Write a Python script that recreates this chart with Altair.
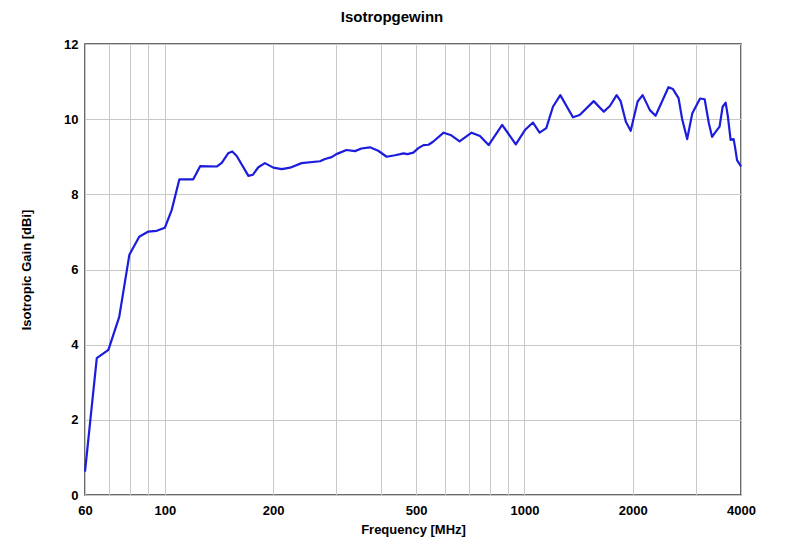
import altair as alt
import pandas as pd

freq = [60, 64.7, 69.7, 74.7, 79.7, 84.9, 90, 95, 100, 104.5,
        109.8, 120, 125.4, 139.4, 144, 150, 154, 158.5, 170.8, 175.7,
        182, 189.8, 200.3, 211.5, 223, 240, 270, 279, 291, 300,
        320, 338, 352, 372, 392, 414, 437, 461, 473, 491,
        507, 524, 541, 557, 596, 626, 660, 713, 752, 795,
        867, 946, 1003, 1056, 1102, 1150, 1200, 1258, 1364, 1424,
        1558, 1662, 1728, 1804, 1851, 1914, 1974, 2064, 2131, 2232,
        2315, 2514, 2587, 2682, 2742, 2834, 2929, 3078, 3170, 3256,
        3324, 3388, 3487, 3556, 3626, 3678, 3743, 3816, 3851, 3900, 4000]
gain = [0.62, 3.64, 3.86, 4.74, 6.39, 6.87, 7.01, 7.03, 7.11, 7.58,
        8.40, 8.40, 8.75, 8.74, 8.84, 9.09, 9.14, 9.02, 8.49, 8.52,
        8.72, 8.83, 8.71, 8.67, 8.71, 8.83, 8.88, 8.94, 8.99, 9.07,
        9.18, 9.15, 9.22, 9.25, 9.16, 9.00, 9.04, 9.09, 9.07, 9.11,
        9.23, 9.31, 9.32, 9.40, 9.64, 9.57, 9.41, 9.64, 9.55, 9.31,
        9.85, 9.33, 9.71, 9.91, 9.64, 9.76, 10.33, 10.64, 10.05, 10.11,
        10.48, 10.20, 10.35, 10.64, 10.48, 9.93, 9.69, 10.47, 10.64, 10.24,
        10.09, 10.85, 10.80, 10.56, 10.02, 9.47, 10.16, 10.55, 10.53, 9.89,
        9.53, 9.64, 9.80, 10.33, 10.44, 10.07, 9.45, 9.47, 9.25, 8.91, 8.74]

x_grid = [60, 70, 80, 90, 100, 200, 300, 400, 500, 600, 700, 800, 900,
          1000, 2000, 3000, 4000]
x_labels = [60, 100, 200, 500, 1000, 2000, 4000]
y_ticks = [0, 2, 4, 6, 8, 10, 12]

df = pd.DataFrame({"freq": freq, "gain": gain})

FONT = "Liberation Sans"
label_list = "[" + ",".join(str(v) for v in x_labels) + "]"

chart = alt.Chart(df).mark_line(color="#1c1cdc", strokeWidth=2.2, strokeJoin="round").encode(
    x=alt.X("freq:Q",
            scale=alt.Scale(type="log", domain=[60, 4000], nice=False),
            axis=alt.Axis(values=x_grid,
                          labelExpr=f"indexof({label_list}, datum.value) >= 0 ? format(datum.value, 'd') : ''",
                          title="Frequency [MHz]",
                          grid=True, gridColor="#c8c8c8", gridWidth=1,
                          ticks=False, domain=False,
                          labelFont=FONT, labelFontSize=13, labelFontWeight="bold",
                          labelColor="#000", labelPadding=9, labelFlush=False,
                          labelOverlap=False,
                          titleFont=FONT, titleFontSize=13, titleFontWeight="bold",
                          titleColor="#000", titlePadding=6)),
    y=alt.Y("gain:Q",
            scale=alt.Scale(domain=[0, 12], nice=False),
            axis=alt.Axis(values=y_ticks, format="d",
                          title="Isotropic Gain [dBi]",
                          grid=True, gridColor="#c8c8c8", gridWidth=1,
                          ticks=False, domain=False,
                          labelFont=FONT, labelFontSize=13, labelFontWeight="bold",
                          labelColor="#000", labelPadding=7,
                          titleFont=FONT, titleFontSize=13, titleFontWeight="bold",
                          titleColor="#000", titlePadding=30)),
).properties(
    width=656, height=451,
    title=alt.TitleParams("Isotropgewinn", font=FONT, fontSize=15, fontWeight="bold",
                          color="#000", anchor="middle", dx=-21, offset=13),
    autosize=alt.AutoSizeParams(type="none"),
    padding={"left": 77, "top": 36, "right": 51, "bottom": 44},
).configure_view(stroke="#3a3a3a", strokeWidth=1.5)

chart.save("out.html", embed_options={"renderer": "svg", "actions": False})
